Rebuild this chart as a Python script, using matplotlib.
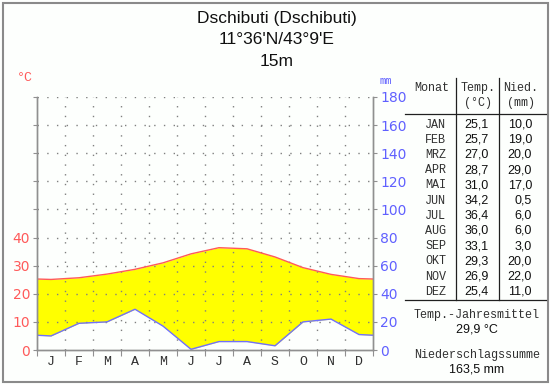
import matplotlib
matplotlib.use("Agg")
import matplotlib.pyplot as plt
import numpy as np
from matplotlib.patches import Rectangle
from matplotlib.lines import Line2D

months_short = ["J", "F", "M", "A", "M", "J", "J", "A", "S", "O", "N", "D"]
months_table = ["JAN", "FEB", "MRZ", "APR", "MAI", "JUN", "JUL", "AUG", "SEP", "OKT", "NOV", "DEZ"]
temp = [25.1, 25.7, 27.0, 28.7, 31.0, 34.2, 36.4, 36.0, 33.1, 29.3, 26.9, 25.4]
precip = [10.0, 19.0, 20.0, 29.0, 17.0, 0.5, 6.0, 6.0, 3.0, 20.0, 22.0, 11.0]
temp_labels = ["25,1", "25,7", "27,0", "28,7", "31,0", "34,2", "36,4", "36,0", "33,1", "29,3", "26,9", "25,4"]
precip_labels = ["10,0", "19,0", "20,0", "29,0", "17,0", "0,5", "6,0", "6,0", "3,0", "20,0", "22,0", "11,0"]
title_lines = ["Dschibuti (Dschibuti)", "11°36'N/43°9'E", "15m"]
mean_temp_text = "29,9 °C"
precip_sum_text = "163,5 mm"

W, H = 550, 384
fig = plt.figure(figsize=(W / 100, H / 100), dpi=100)
fig.patch.set_facecolor("#fdfffd")

def fx(px):
    return px / W

def fy(py):
    return 1 - py / H

ax = fig.add_axes([fx(37), fy(350), fx(373) - fx(37), fy(97) - fy(350)])
ax.set_facecolor("none")
ax2 = ax.twinx()

# Data curves at month centers, edges = mean of Dec/Jan
t = np.array(temp)
p = np.array(precip) / 2.0
edge_t = (t[0] + t[-1]) / 2
edge_p = (p[0] + p[-1]) / 2
xs = np.concatenate([[0], np.arange(12) + 0.5, [12]])
ts = np.concatenate([[edge_t], t, [edge_t]])
ps = np.concatenate([[edge_p], p, [edge_p]])

ax.fill_between(xs, ps, ts, where=ts >= ps, color="#ffff00", interpolate=True, zorder=2, lw=0)
ax.plot(xs, ts, color="#ff5a5a", lw=1.0, zorder=4)
ax.plot(xs, ps, color="#7070ff", lw=1.0, zorder=4)

ax.set_xlim(0, 12)
ax.set_ylim(0, 90)
ax2.set_ylim(0, 180)

# grid
for yv in range(10, 91, 10):
    ax.plot([0, 12], [yv, yv], color="#808080", lw=1.0, ls=(0, (1, 6)), zorder=3)
for xv in range(1, 12):
    ax.plot([xv, xv], [0, 90], color="#808080", lw=1.0, ls=(0, (1, 6)), zorder=3)

ax.set_yticks(range(0, 91, 10))
ax.set_yticklabels([str(v) if v <= 40 else "" for v in range(0, 91, 10)])
ax2.set_yticks(range(0, 181, 20))
ax2.set_yticklabels([str(v) for v in range(0, 181, 20)])
ax.set_xticks(range(0, 13))
ax.set_xticklabels([])
ax.set_xticks(np.arange(12) + 0.5, minor=True)
ax.set_xticklabels(months_short, minor=True, family="Liberation Mono", fontsize=9.5, color="#303030")
ax.tick_params(axis="x", which="minor", length=0, pad=4)
ax.tick_params(axis="x", which="major", length=4, color="#909090", direction="out")
ax.tick_params(axis="y", length=3, color="#909090", labelcolor="#ff5a5a", labelsize=10, pad=2)
ax2.tick_params(axis="y", length=3, color="#909090", labelcolor="#6060ff", labelsize=10, pad=2)

for a in (ax, ax2):
    a.spines["top"].set_visible(False)
    for s in ("left", "right", "bottom"):
        a.spines[s].set_color("#909090")
        a.spines[s].set_linewidth(1.0)

fig.text(fx(25), fy(78), "°C", color="#ff5a5a", fontsize=9.5, ha="center", va="center", family="Liberation Mono")
fig.text(fx(386), fy(81), "mm", color="#6060ff", fontsize=7.5, ha="center", va="center", family="Liberation Mono")

# title
for i, line in enumerate(title_lines):
    fig.text(fx(277), fy(18 + i * 22), line, fontsize=12.5, ha="center", va="center", family="Liberation Sans", color="#101010")

# table
tc = "#303030"
fig.text(fx(432), fy(88), "Monat", family="Liberation Mono", fontsize=8.5, ha="center", va="center", color=tc)
fig.text(fx(478), fy(88), "Temp.", family="Liberation Mono", fontsize=8.5, ha="center", va="center", color=tc)
fig.text(fx(478), fy(103), "(°C)", family="Liberation Mono", fontsize=8.5, ha="center", va="center", color=tc)
fig.text(fx(521), fy(88), "Nied.", family="Liberation Mono", fontsize=8.5, ha="center", va="center", color=tc)
fig.text(fx(521), fy(103), "(mm)", family="Liberation Mono", fontsize=8.5, ha="center", va="center", color=tc)

row_y0 = 124.5
row_dy = 15.2
for i in range(12):
    y = fy(row_y0 + i * row_dy)
    fig.text(fx(446), y, months_table[i], family="Liberation Mono", fontsize=8.5, ha="right", va="center", color=tc)
    fig.text(fx(489), y, temp_labels[i], family="Liberation Sans", fontsize=9, ha="right", va="center", color="#101010")
    fig.text(fx(532), y, precip_labels[i], family="Liberation Sans", fontsize=9, ha="right", va="center", color="#101010")

lc = "#202020"
fig.add_artist(Line2D([fx(456), fx(456)], [fy(78), fy(300)], color=lc, lw=0.9))
fig.add_artist(Line2D([fx(499), fx(499)], [fy(78), fy(300)], color=lc, lw=0.9))
fig.add_artist(Line2D([fx(405), fx(546)], [fy(114), fy(114)], color=lc, lw=0.9))
fig.add_artist(Line2D([fx(405), fx(546)], [fy(300), fy(300)], color=lc, lw=0.9))

fig.text(fx(477), fy(315), "Temp.-Jahresmittel", family="Liberation Mono", fontsize=8.5, ha="center", va="center", color=tc)
fig.text(fx(477), fy(330), mean_temp_text, family="Liberation Sans", fontsize=9, ha="center", va="center", color="#101010")
fig.text(fx(477), fy(355), "Niederschlagssumme", family="Liberation Mono", fontsize=8.5, ha="center", va="center", color=tc)
fig.text(fx(477), fy(370), precip_sum_text, family="Liberation Sans", fontsize=9, ha="center", va="center", color="#101010")

# border
fig.add_artist(Rectangle((fx(2.5), fy(381.5)), fx(545) - fx(0), fy(2.5) - fy(381.5),
                         fill=False, edgecolor="#8a8a8a", lw=1.5))

fig.savefig("out.png", dpi=100, facecolor=fig.get_facecolor())
